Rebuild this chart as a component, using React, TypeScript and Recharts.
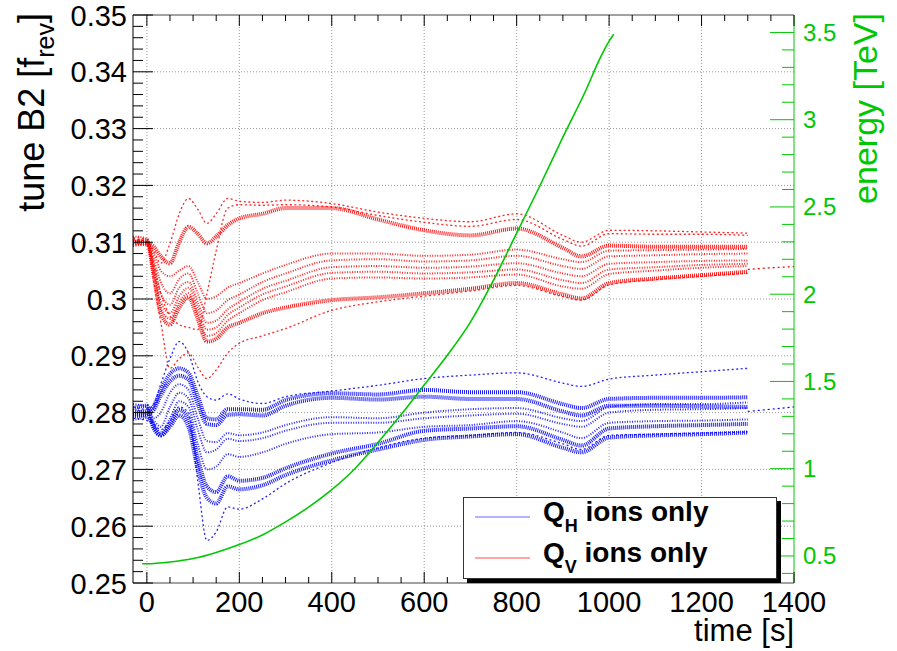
import React from 'react'
import { ComposedChart, Line, XAxis, YAxis, ReferenceLine, Legend } from 'recharts'

const FONT = '"Liberation Sans", Arial, Helvetica, sans-serif'
const RED = '#ff0000'
const BLUE = '#0000ff'
const GREEN = '#00c800'

// time samples [s] shared by all bunch tunes
const TIMES = [-30, 0, 15, 30, 50, 70, 90, 110, 130, 150, 175, 200, 250, 300, 400, 500, 600, 700, 800, 900, 940, 1000, 1100, 1200, 1300]

// vertical tune (Q_V), one array per bunch
const qvTop = [0.3104, 0.3102, 0.3085, 0.3063, 0.3098, 0.3150, 0.3177, 0.3158, 0.3133, 0.3150, 0.3177, 0.3172, 0.3170, 0.3174, 0.3168, 0.3153, 0.3142, 0.3136, 0.3150, 0.3112, 0.3100, 0.3121, 0.3120, 0.3118, 0.3116]
const qvRise = [0.3108, 0.3105, 0.3060, 0.3010, 0.2970, 0.2955, 0.2950, 0.2946, 0.3010, 0.3085, 0.3160, 0.3166, 0.3165, 0.3166, 0.3162, 0.3147, 0.3135, 0.3128, 0.3140, 0.3105, 0.3093, 0.3115, 0.3114, 0.3114, 0.3112]
const qvBand1 = [0.3100, 0.3098, 0.3092, 0.3075, 0.3063, 0.3100, 0.3127, 0.3115, 0.3098, 0.3110, 0.3130, 0.3142, 0.3150, 0.3160, 0.3160, 0.3140, 0.3121, 0.3112, 0.3124, 0.3090, 0.3075, 0.3094, 0.3092, 0.3092, 0.3092]
const qvMid1 = [0.3095, 0.3097, 0.3080, 0.3050, 0.3040, 0.3050, 0.3058, 0.3030, 0.3000, 0.3005, 0.3020, 0.3028, 0.3045, 0.3060, 0.3080, 0.3080, 0.3076, 0.3078, 0.3087, 0.3070, 0.3065, 0.3085, 0.3086, 0.3087, 0.3088]
const qvMid2 = [0.3110, 0.3107, 0.3070, 0.3030, 0.3010, 0.3035, 0.3045, 0.3010, 0.2975, 0.2980, 0.2998, 0.3008, 0.3030, 0.3045, 0.3068, 0.3070, 0.3066, 0.3068, 0.3076, 0.3058, 0.3053, 0.3075, 0.3077, 0.3079, 0.3080]
const qvMid3 = [0.3093, 0.3096, 0.3060, 0.3010, 0.2990, 0.3020, 0.3030, 0.2995, 0.2958, 0.2962, 0.2982, 0.2995, 0.3018, 0.3032, 0.3056, 0.3058, 0.3055, 0.3057, 0.3063, 0.3045, 0.3040, 0.3062, 0.3065, 0.3067, 0.3068]
const qvMid4 = [0.3102, 0.3100, 0.3050, 0.2995, 0.2975, 0.3005, 0.3020, 0.2985, 0.2946, 0.2950, 0.2972, 0.2985, 0.3008, 0.3022, 0.3046, 0.3048, 0.3045, 0.3047, 0.3052, 0.3033, 0.3028, 0.3052, 0.3056, 0.3060, 0.3062]
const qvMid5 = [0.3097, 0.3094, 0.3045, 0.2985, 0.2965, 0.2995, 0.3010, 0.2975, 0.2935, 0.2940, 0.2962, 0.2975, 0.2998, 0.3012, 0.3036, 0.3038, 0.3036, 0.3038, 0.3043, 0.3022, 0.3018, 0.3044, 0.3050, 0.3055, 0.3058]
const qvBand2 = [0.3100, 0.3103, 0.3040, 0.2975, 0.2955, 0.2985, 0.3003, 0.2965, 0.2925, 0.2930, 0.2950, 0.2958, 0.2975, 0.2985, 0.2998, 0.3003, 0.3010, 0.3018, 0.3028, 0.3008, 0.3001, 0.3028, 0.3036, 0.3042, 0.3048]
const qvLow = [0.3106, 0.3101, 0.3030, 0.2960, 0.2878, 0.2895, 0.2905, 0.2880, 0.2860, 0.2875, 0.2905, 0.2922, 0.2935, 0.2948, 0.2980, 0.2995, 0.3005, 0.3014, 0.3024, 0.3004, 0.2998, 0.3025, 0.3034, 0.3040, 0.3045]

// horizontal tune (Q_H)
const qhTop = [0.2810, 0.2806, 0.2815, 0.2850, 0.2895, 0.2925, 0.2905, 0.2855, 0.2828, 0.2822, 0.2833, 0.2824, 0.2816, 0.2828, 0.2838, 0.2848, 0.2860, 0.2866, 0.2870, 0.2852, 0.2846, 0.2859, 0.2866, 0.2872, 0.2878]
const qhBand1 = [0.2800, 0.2803, 0.2812, 0.2840, 0.2868, 0.2878, 0.2870, 0.2830, 0.2790, 0.2788, 0.2806, 0.2806, 0.2805, 0.2822, 0.2834, 0.2832, 0.2840, 0.2836, 0.2836, 0.2815, 0.2808, 0.2824, 0.2826, 0.2826, 0.2827]
const qhBand2 = [0.2793, 0.2797, 0.2805, 0.2830, 0.2855, 0.2865, 0.2858, 0.2815, 0.2780, 0.2778, 0.2796, 0.2797, 0.2795, 0.2812, 0.2826, 0.2823, 0.2828, 0.2824, 0.2824, 0.2802, 0.2795, 0.2812, 0.2812, 0.2811, 0.2810]
const qhMid1 = [0.2815, 0.2810, 0.2790, 0.2800, 0.2835, 0.2850, 0.2840, 0.2790, 0.2750, 0.2748, 0.2764, 0.2760, 0.2765, 0.2778, 0.2792, 0.2790, 0.2800, 0.2806, 0.2808, 0.2790, 0.2785, 0.2810, 0.2815, 0.2815, 0.2818]
const qhMid2 = [0.2787, 0.2790, 0.2785, 0.2775, 0.2810, 0.2835, 0.2825, 0.2770, 0.2730, 0.2735, 0.2754, 0.2750, 0.2755, 0.2768, 0.2782, 0.2782, 0.2790, 0.2795, 0.2798, 0.2780, 0.2775, 0.2800, 0.2805, 0.2806, 0.2808]
const qhMid3 = [0.2805, 0.2800, 0.2780, 0.2765, 0.2790, 0.2820, 0.2810, 0.2745, 0.2700, 0.2705, 0.2727, 0.2722, 0.2730, 0.2745, 0.2762, 0.2765, 0.2775, 0.2778, 0.2785, 0.2765, 0.2755, 0.2782, 0.2785, 0.2786, 0.2788]
const qhBand3 = [0.2797, 0.2794, 0.2775, 0.2760, 0.2780, 0.2805, 0.2790, 0.2720, 0.2670, 0.2660, 0.2688, 0.2680, 0.2685, 0.2702, 0.2728, 0.2745, 0.2768, 0.2772, 0.2776, 0.2752, 0.2742, 0.2772, 0.2776, 0.2778, 0.2780]
const qhBand4 = [0.2808, 0.2812, 0.2772, 0.2760, 0.2775, 0.2795, 0.2775, 0.2700, 0.2650, 0.2640, 0.2670, 0.2665, 0.2672, 0.2690, 0.2716, 0.2735, 0.2752, 0.2758, 0.2762, 0.2738, 0.2730, 0.2756, 0.2760, 0.2762, 0.2765]
const qhLow = [0.2790, 0.2786, 0.2780, 0.2770, 0.2785, 0.2810, 0.2800, 0.2680, 0.2575, 0.2590, 0.2634, 0.2630, 0.2648, 0.2675, 0.2712, 0.2738, 0.2755, 0.2760, 0.2765, 0.2745, 0.2735, 0.2760, 0.2762, 0.2764, 0.2766]

// the two bunches still measured after 1300 s
const TAIL_TIMES = [1300, 1350, 1400]
const qvTail = [0.3052, 0.3055, 0.3057]
const qhTail = [0.2802, 0.2806, 0.2810]

// beam energy ramp
const ENERGY_TIMES = [-10, 0, 50, 100, 150, 200, 250, 300, 350, 400, 450, 500, 550, 600, 650, 700, 750, 800, 850, 900, 950, 980, 1000, 1010]
const ENERGY_TEV = [0.455, 0.455, 0.465, 0.485, 0.52, 0.565, 0.62, 0.695, 0.78, 0.88, 1.0, 1.15, 1.31, 1.48, 1.65, 1.84, 2.08, 2.35, 2.62, 2.9, 3.17, 3.35, 3.45, 3.49]

// axis ticks
const TIME_MAJOR = [0, 200, 400, 600, 800, 1000, 1200, 1400]
const TIME_LABELS = ['0', '200', '400', '600', '800', '1000', '1200', '1400']
const TUNE_MAJOR = [0.25, 0.26, 0.27, 0.28, 0.29, 0.3, 0.31, 0.32, 0.33, 0.34, 0.35]
const TUNE_LABELS = ['0.25', '0.26', '0.27', '0.28', '0.29', '0.3', '0.31', '0.32', '0.33', '0.34', '0.35']
const ENERGY_MAJOR = [0.5, 1, 1.5, 2, 2.5, 3, 3.5]
const ENERGY_LABELS = ['0.5', '1', '1.5', '2', '2.5', '3', '3.5']

const timeTicks = Array.from({ length: 29 }, (_, i) => i * 50)
const tuneTicks = Array.from({ length: 51 }, (_, i) => +(0.25 + i * 0.002).toFixed(3))
const energyTicks = Array.from({ length: 32 }, (_, i) => +(0.4 + i * 0.1).toFixed(1))

const SPARSE = { width: 1.3, dash: '2 2.5', opacity: 0.85 }
const MID = { width: 2, dash: '1 1.5', opacity: 0.85 }
const DENSE = { width: 4, dash: '1 1', opacity: 0.9 }

const SERIES = [
  { key: 'qhLow', values: qhLow, color: BLUE, style: SPARSE },
  { key: 'qhBand4', values: qhBand4, color: BLUE, style: DENSE },
  { key: 'qhBand3', values: qhBand3, color: BLUE, style: DENSE },
  { key: 'qhMid3', values: qhMid3, color: BLUE, style: MID },
  { key: 'qhMid2', values: qhMid2, color: BLUE, style: MID },
  { key: 'qhMid1', values: qhMid1, color: BLUE, style: MID },
  { key: 'qhBand2', values: qhBand2, color: BLUE, style: DENSE },
  { key: 'qhBand1', values: qhBand1, color: BLUE, style: DENSE },
  { key: 'qhTop', values: qhTop, color: BLUE, style: SPARSE },
  { key: 'qvLow', values: qvLow, color: RED, style: SPARSE },
  { key: 'qvBand2', values: qvBand2, color: RED, style: DENSE },
  { key: 'qvMid5', values: qvMid5, color: RED, style: MID },
  { key: 'qvMid4', values: qvMid4, color: RED, style: MID },
  { key: 'qvMid3', values: qvMid3, color: RED, style: MID },
  { key: 'qvMid2', values: qvMid2, color: RED, style: MID },
  { key: 'qvMid1', values: qvMid1, color: RED, style: MID },
  { key: 'qvBand1', values: qvBand1, color: RED, style: DENSE },
  { key: 'qvRise', values: qvRise, color: RED, style: SPARSE },
  { key: 'qvTop', values: qvTop, color: RED, style: SPARSE },
]

const rows = TIMES.map((t, i) => {
  const row: Record<string, number> = { t }
  SERIES.forEach((s) => { row[s.key] = s.values[i] })
  return row
})
const qvTailData = TAIL_TIMES.map((t, i) => ({ t, q: qvTail[i] }))
const qhTailData = TAIL_TIMES.map((t, i) => ({ t, q: qhTail[i] }))
const energyData = ENERGY_TIMES.map((t, i) => ({ t, e: ENERGY_TEV[i] }))

const findMajor = (list: number[], v: number) => list.findIndex((m) => Math.abs(m - v) < 1e-6)

function TimeTick({ x, y, payload }: any) {
  const i = findMajor(TIME_MAJOR, payload.value)
  return (
    <g>
      <line x1={x} x2={x} y1={y} y2={y - (i >= 0 ? 11 : 6)} stroke="#000" />
      {i >= 0 && (
        <text x={x} y={y + 29} textAnchor="middle" fontSize={29} fontFamily={FONT} fill="#000">{TIME_LABELS[i]}</text>
      )}
    </g>
  )
}

function TopTick({ x, y, payload }: any) {
  const i = findMajor(TIME_MAJOR, payload.value)
  return <line x1={x} x2={x} y1={y} y2={y + (i >= 0 ? 11 : 6)} stroke="#000" />
}

function TuneTick({ x, y, payload }: any) {
  const i = findMajor(TUNE_MAJOR, payload.value)
  return (
    <g>
      <line x1={x} x2={x + (i >= 0 ? 20 : 10)} y1={y} y2={y} stroke="#000" />
      {i >= 0 && (
        <text x={x - 6} y={y + 10.5} textAnchor="end" fontSize={29} fontFamily={FONT} fill="#000">{TUNE_LABELS[i]}</text>
      )}
    </g>
  )
}

function EnergyTick({ x, y, payload }: any) {
  const i = findMajor(ENERGY_MAJOR, payload.value)
  return (
    <g>
      <line x1={x} x2={x - (i >= 0 ? 24 : 12)} y1={y} y2={y} stroke={GREEN} />
      {i >= 0 && (
        <text x={x + 9} y={y + 8.5} textAnchor="start" fontSize={24} fontFamily={FONT} fill={GREEN}>{ENERGY_LABELS[i]}</text>
      )}
    </g>
  )
}

function LegendBox() {
  return (
    <div style={{ width: 314, height: 82, boxSizing: 'border-box', border: '1px solid #333', background: '#fff', boxShadow: '4px 4px 0 #000' }}>
      <svg width={312} height={80} style={{ display: 'block', overflow: 'visible' }}>
        <line x1={11} x2={66} y1={19} y2={19} stroke={BLUE} strokeOpacity={0.6} />
        <text x={79} y={23} fontSize={28} fontWeight="bold" fontFamily={FONT} fill="#000">
          Q<tspan fontSize={18} dy={11}>H</tspan><tspan dy={-11}> ions only</tspan>
        </text>
        <line x1={11} x2={66} y1={60} y2={60} stroke={RED} strokeOpacity={0.7} />
        <text x={79} y={64} fontSize={28} fontWeight="bold" fontFamily={FONT} fill="#000">
          Q<tspan fontSize={18} dy={11}>V</tspan><tspan dy={-11}> ions only</tspan>
        </text>
      </svg>
    </div>
  )
}

export default function App() {
  return (
    <div style={{ position: 'absolute', left: 0, top: 0, width: 897, height: 651, background: '#fff' }}>
      <ComposedChart width={897} height={651} data={rows} margin={{ top: 5, right: 43, bottom: 28, left: 73 }}>
        <XAxis
          xAxisId="t" dataKey="t" type="number" domain={[-30, 1400]} allowDataOverflow
          ticks={timeTicks} interval={0} tickLine={false} tickSize={0} tickMargin={0} height={40}
          axisLine={{ stroke: '#444' }}
          tick={(p: any) => <TimeTick {...p} />}
          label={{
            content: (p: any) => (
              <text x={p.viewBox.x + p.viewBox.width} y={p.viewBox.y + 58} textAnchor="end" fontSize={31} fontFamily={FONT} fill="#000">time [s]</text>
            ),
          }}
        />
        <XAxis
          xAxisId="top" orientation="top" dataKey="t" type="number" domain={[-30, 1400]} allowDataOverflow
          ticks={timeTicks} interval={0} tickLine={false} tickSize={0} tickMargin={0} height={10}
          axisLine={{ stroke: '#444' }}
          tick={(p: any) => <TopTick {...p} />}
        />
        <YAxis
          yAxisId="q" type="number" domain={[0.25, 0.35]} allowDataOverflow
          ticks={tuneTicks} interval={0} tickLine={false} tickSize={0} tickMargin={0} width={60}
          axisLine={{ stroke: '#000' }}
          tick={(p: any) => <TuneTick {...p} />}
          label={{
            content: (p: any) => {
              const x = p.viewBox.x - 29
              const y = p.viewBox.y - 2
              return (
                <text x={x} y={y} transform={`rotate(-90 ${x} ${y})`} textAnchor="end" fontSize={36} fontFamily={FONT} fill="#000">
                  tune B2 [f<tspan fontSize={25} dy={10}>rev</tspan><tspan dy={-10}>]</tspan>
                </text>
              )
            },
          }}
        />
        <YAxis
          yAxisId="e" orientation="right" type="number" domain={[0.345, 3.6]} allowDataOverflow
          ticks={energyTicks} interval={0} tickLine={false} tickSize={0} tickMargin={0} width={60}
          axisLine={{ stroke: GREEN }}
          tick={(p: any) => <EnergyTick {...p} />}
          label={{
            content: (p: any) => {
              const x = p.viewBox.x + 83
              const y = p.viewBox.y - 2
              return (
                <text x={x} y={y} transform={`rotate(-90 ${x} ${y})`} textAnchor="end" fontSize={34} fontFamily={FONT} fill={GREEN}>energy [TeV]</text>
              )
            },
          }}
        />

        {TIME_MAJOR.slice(0, -1).map((v) => (
          <ReferenceLine key={'gx' + v} xAxisId="t" yAxisId="q" x={v} stroke="#999" strokeDasharray="1 2" />
        ))}
        {TUNE_MAJOR.slice(1, -1).map((v) => (
          <ReferenceLine key={'gy' + v} xAxisId="t" yAxisId="q" y={v} stroke="#999" strokeDasharray="1 2" />
        ))}

        {SERIES.map((s) => (
          <Line
            key={s.key} xAxisId="t" yAxisId="q" dataKey={s.key} type="monotone"
            stroke={s.color} strokeWidth={s.style.width} strokeDasharray={s.style.dash} strokeOpacity={s.style.opacity}
            dot={false} activeDot={false} isAnimationActive={false} legendType="none"
          />
        ))}
        <Line data={qhTailData} xAxisId="t" yAxisId="q" dataKey="q" type="monotone" stroke={BLUE} strokeWidth={1.2} strokeDasharray="2 3" dot={false} activeDot={false} isAnimationActive={false} legendType="none" />
        <Line data={qvTailData} xAxisId="t" yAxisId="q" dataKey="q" type="monotone" stroke={RED} strokeWidth={1.2} strokeDasharray="2 3" dot={false} activeDot={false} isAnimationActive={false} legendType="none" />
        <Line data={energyData} xAxisId="t" yAxisId="e" dataKey="e" type="monotone" stroke={GREEN} strokeWidth={1.6} dot={false} activeDot={false} isAnimationActive={false} legendType="none" />

        <Legend
          layout="vertical" align="center" verticalAlign="middle"
          wrapperStyle={{ left: 463, top: 497, width: 314, height: 82 }}
          content={() => <LegendBox />}
        />
      </ComposedChart>
    </div>
  )
}
